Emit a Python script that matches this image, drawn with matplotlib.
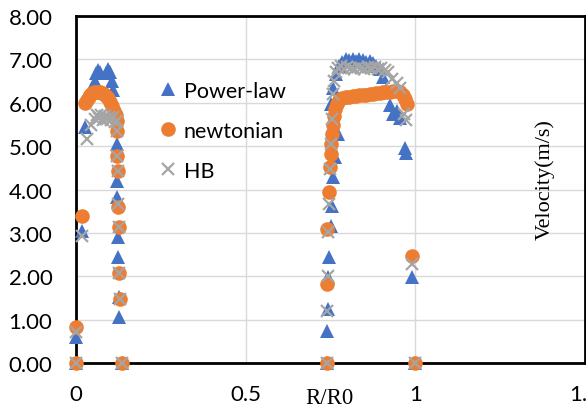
import matplotlib
matplotlib.use("Agg")
import matplotlib.pyplot as plt

# ---- data ----
power_x = [0.0, 0.0, 0.018, 0.027, 0.050, 0.055, 0.060, 0.066, 0.072, 0.088, 0.094, 0.100, 0.106, 0.110,
           0.120, 0.121, 0.122, 0.124, 0.125, 0.127, 0.128, 0.135,
           0.739, 0.740, 0.742, 0.744, 0.747, 0.750, 0.753, 0.757, 0.762, 0.770, 0.773,
           0.750, 0.756, 0.765, 0.775, 0.785, 0.795, 0.805, 0.815, 0.825, 0.835, 0.845, 0.855, 0.865,
           0.875, 0.885, 0.895, 0.905, 0.915, 0.925, 0.935, 0.945, 0.955, 0.970, 0.972, 0.990, 1.0]
power_y = [0.0, 0.60, 3.05, 5.45, 6.30, 6.50, 6.68, 6.75, 6.70, 6.68, 6.78, 6.72, 6.50, 6.30,
           5.05, 4.21, 3.83, 2.91, 2.45, 1.53, 1.07, 0.0,
           0.0, 0.75, 1.26, 1.98, 2.45, 3.17, 3.63, 4.29, 4.75, 5.28, 5.28,
           5.98, 6.35, 6.67, 6.85, 6.95, 7.00, 6.98, 7.02, 6.97, 7.00, 6.98, 6.95, 6.97,
           6.92, 6.85, 6.78, 6.60, 6.30, 5.95, 5.75, 5.82, 5.65, 4.95, 4.85, 1.99, 0.0]

newt_x = [0.0, 0.0, 0.018, 0.027, 0.032, 0.037, 0.042, 0.047, 0.052, 0.058, 0.064, 0.070, 0.076,
          0.082, 0.088, 0.094, 0.100, 0.106, 0.112, 0.117, 0.120, 0.121, 0.122, 0.123, 0.124,
          0.126, 0.128, 0.130, 0.135,
          0.739, 0.740, 0.741, 0.745, 0.748, 0.750, 0.752, 0.754, 0.756, 0.759, 0.763, 0.768,
          0.775, 0.785, 0.795, 0.805, 0.815, 0.825, 0.835, 0.845, 0.855, 0.865, 0.875, 0.885,
          0.895, 0.905, 0.915, 0.925, 0.935, 0.945, 0.955, 0.963, 0.970, 0.976, 0.990, 1.0]
newt_y = [0.0, 0.84, 3.40, 6.00, 6.07, 6.13, 6.18, 6.22, 6.24, 6.25, 6.25, 6.24, 6.22,
          6.20, 6.15, 6.10, 6.02, 5.92, 5.82, 5.72, 5.59, 5.36, 4.78, 4.44, 3.60,
          3.14, 2.08, 1.48, 0.0,
          0.0, 1.83, 3.10, 3.95, 4.52, 4.82, 5.05, 5.28, 5.50, 5.70, 5.85, 5.97,
          6.06, 6.11, 6.13, 6.14, 6.15, 6.16, 6.17, 6.18, 6.19, 6.20, 6.21, 6.22,
          6.23, 6.24, 6.25, 6.26, 6.27, 6.28, 6.25, 6.18, 6.08, 5.98, 2.48, 0.0]

hb_x = [0.0, 0.0, 0.018, 0.031, 0.045, 0.055, 0.062, 0.068, 0.074, 0.080, 0.086, 0.092, 0.098,
        0.104, 0.110, 0.116, 0.120, 0.121, 0.122, 0.123, 0.124, 0.126, 0.128, 0.130, 0.135,
        0.739, 0.741, 0.742, 0.744, 0.746, 0.749, 0.752, 0.754, 0.756, 0.760, 0.766,
        0.772, 0.780, 0.790, 0.800, 0.810, 0.820, 0.830, 0.840, 0.850, 0.860, 0.870, 0.880,
        0.890, 0.900, 0.910, 0.920, 0.932, 0.945, 0.956, 0.968, 0.972, 0.990, 1.0]
hb_y = [0.0, 0.72, 2.93, 5.17, 5.48, 5.62, 5.72, 5.66, 5.72, 5.60, 5.70, 5.62, 5.68,
        5.60, 5.68, 5.55, 5.59, 5.36, 4.78, 4.42, 3.67, 3.14, 2.08, 1.48, 0.0,
        0.0, 1.21, 2.02, 3.03, 3.68, 4.48, 5.05, 5.63, 6.20, 6.50, 6.72,
        6.80, 6.85, 6.78, 6.82, 6.80, 6.78, 6.82, 6.80, 6.78, 6.82, 6.80, 6.83,
        6.78, 6.80, 6.75, 6.70, 6.55, 6.45, 6.33, 5.75, 5.60, 2.29, 0.0]

series_names = ["Power-law", "newtonian", "HB"]
x_ticks = [0, 0.5, 1, 1.5]
x_tick_labels = ["0", "0.5", "1", "1.5"]
y_ticks = [0, 1, 2, 3, 4, 5, 6, 7, 8]
y_tick_labels = ["%.2f" % v for v in y_ticks]
x_label = "R/R0"
y_label = "Velocity(m/s)"

# ---- figure ----
W, H = 586, 410
fig = plt.figure(figsize=(W / 100, H / 100), dpi=100)
left, right, top, bottom = 76, 585, 17, 364.3
ax = fig.add_axes([left / W, 1 - bottom / H, (right - left) / W, (bottom - top) / H])

blue, orange, gray = "#4472C4", "#ED7D31", "#A5A5A5"
ax.plot(power_x, power_y, linestyle="none", marker="^", markersize=10, color=blue,
        markeredgewidth=0, label=series_names[0], zorder=3, clip_on=False)
ax.plot(newt_x, newt_y, linestyle="none", marker="o", markersize=10.5, color=orange,
        markeredgewidth=0, label=series_names[1], zorder=4, clip_on=False)
ax.plot(hb_x, hb_y, linestyle="none", marker="x", markersize=9, color=gray,
        markeredgewidth=1.6, label=series_names[2], zorder=5, clip_on=False)

ax.set_xlim(0, 1.5)
ax.set_ylim(0, 8)
ax.set_xticks(x_ticks)
ax.set_xticklabels(x_tick_labels)
ax.set_yticks(y_ticks)
ax.set_yticklabels(y_tick_labels)
tick_font = "Lato"
ax.tick_params(axis="both", length=0, labelsize=16)
ax.tick_params(axis="y", pad=17)
ax.tick_params(axis="x", pad=15)
for lab in ax.get_xticklabels() + ax.get_yticklabels():
    lab.set_fontfamily(tick_font)
    lab.set_color("#000000")

ax.grid(True, color="#D9D9D9", linewidth=1.0, zorder=0)
ax.set_axisbelow(True)
for s in ax.spines.values():
    s.set_color("black")
    s.set_linewidth(2.0)

ax.text((329 - left) / (right - left), (bottom - 399) / (bottom - top), x_label,
        transform=ax.transAxes, ha="center", va="center", fontsize=16.5,
        family="Liberation Serif")
ax.text((545 - left) / (right - left), (bottom - 180) / (bottom - top), y_label,
        transform=ax.transAxes, ha="center", va="center", rotation=90, fontsize=16,
        family="Liberation Serif")

leg = ax.legend(loc="upper left", bbox_to_anchor=((159 - left) / (right - left), (bottom - 82) / (bottom - top)),
                frameon=False, borderpad=0, borderaxespad=0, handlelength=0.8,
                handletextpad=0.35, labelspacing=0.92, prop={"family": "Lato", "size": 15.5})

fig.savefig("out.png", dpi=100)
